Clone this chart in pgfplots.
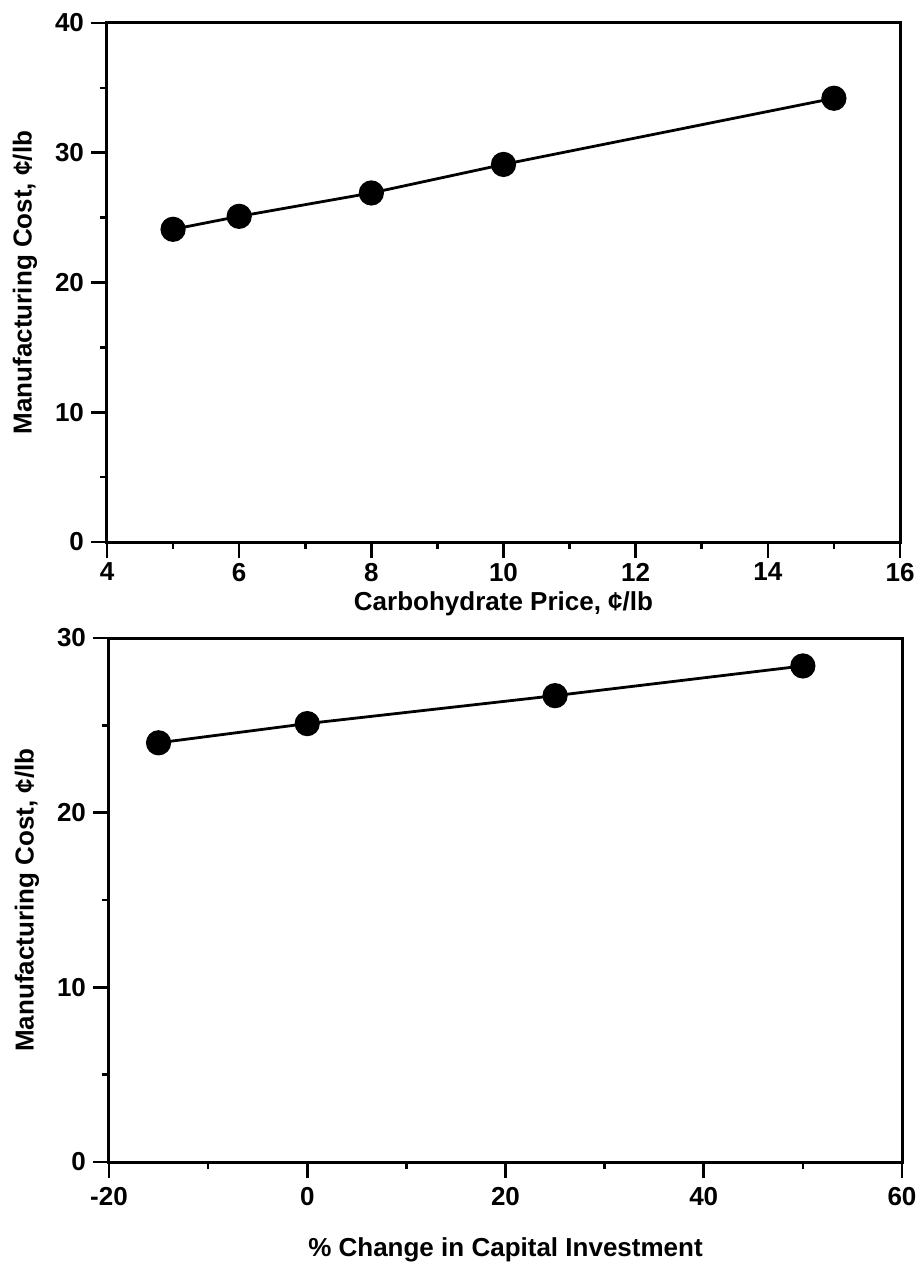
\documentclass[border=0pt]{standalone}
\usepackage{fontspec}
\setmainfont{Liberation Sans}
\usepackage{pgfplots}
\pgfplotsset{compat=1.18}
\pgfplotsset{mystyle/.style={
  scale only axis, width=396.5pt,
  axis line style={line width=1.5pt},
  xtick pos=bottom, ytick pos=left,
  tick align=outside,
  major tick length=8pt, minor tick length=3.5pt,
  tick style={line width=1.3pt, black},
  minor tick num=1,
  /pgf/number format/assume math mode=true,
  ticklabel style={font=\fontsize{13}{15}\selectfont\bfseries},
  label style={font=\fontsize{13}{15}\selectfont\bfseries},
  enlargelimits=false,
  ylabel style={at={([xshift=-41pt]rel axis cs:0,0.5)}, anchor=center},
}}
\begin{document}
\begin{tikzpicture}
\useasboundingbox (-53.5pt,-363pt) rectangle (406pt,271pt);
\begin{axis}[mystyle, height=259.5pt, at={(0,0)}, anchor=south west,
  xmin=4, xmax=16, ymin=0, ymax=40,
  xtick={4,6,...,16}, ytick={0,10,...,40},
  xticklabel style={yshift=1pt},
  xlabel={Carbohydrate Price, ¢/lb},
  ylabel={Manufacturing Cost, ¢/lb},
  xlabel style={at={([yshift=-31pt]rel axis cs:0.5,0)}, anchor=center},
]
\addplot[black, line width=1.4pt, mark=*, mark size=5.6pt] coordinates {
(5,24.1) (6,25.1) (8,26.9) (10,29.1) (15,34.2)};
\end{axis}
\begin{axis}[mystyle, height=262pt, at={(1pt,-48pt)}, anchor=north west,
  xmin=-20, xmax=60, ymin=0, ymax=30,
  xtick={-20,0,...,60}, ytick={0,10,20,30},
  xticklabel style={yshift=-1pt},
  xlabel={\% Change in Capital Investment},
  ylabel={Manufacturing Cost, ¢/lb},
  xlabel style={at={([yshift=-44pt]rel axis cs:0.5,0)}, anchor=center},
]
\addplot[black, line width=1.4pt, mark=*, mark size=5.6pt] coordinates {
(-15,24.0) (0,25.1) (25,26.7) (50,28.4)};
\end{axis}
\end{tikzpicture}
\end{document}
